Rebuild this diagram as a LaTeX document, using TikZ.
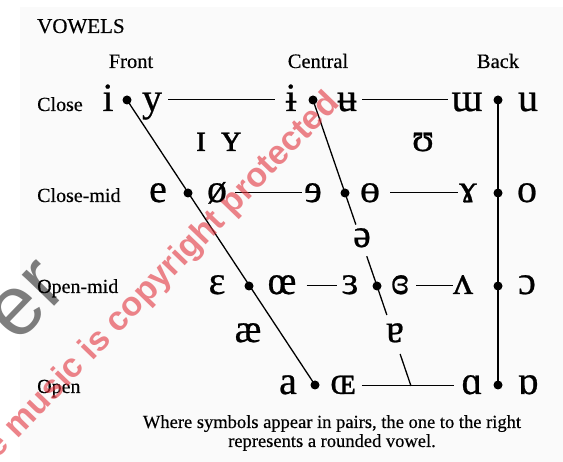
\documentclass[tikz,border=0pt]{standalone}
\usepackage{fontspec}
\setmainfont{Liberation Serif}
\newfontfamily\symfont[FakeBold=0.6]{Liberation Serif}
\newfontfamily\labfont[FakeBold=0.4]{Liberation Serif}
\newfontfamily\wmfont{Liberation Sans}
\usetikzlibrary{calc}
\begin{document}
\begin{tikzpicture}[x=1pt,y=-1pt,
  sym/.style={font=\symfont\fontsize{40}{44}\selectfont, inner sep=0pt, anchor=base},
  lab/.style={font=\labfont\fontsize{20}{24}\selectfont, inner sep=0pt, anchor=base west},
  hdr/.style={font=\labfont\fontsize{20.5}{24}\selectfont, inner sep=0pt, anchor=base},
  note/.style={font=\labfont\fontsize{18.5}{22}\selectfont, inner sep=0pt, anchor=base},
  vdot/.style={circle, fill=black, inner sep=0pt, minimum size=9pt},
  ln/.style={line width=1.3pt},
  hln/.style={line width=1pt}]
\fill[white] (0,0) rectangle (563,462);
\fill[black!2] (20,7) rectangle (563,462);
\useasboundingbox (0,0) rectangle (563,462);

% titles and labels
\node[lab, font=\labfont\fontsize{21}{24}\selectfont] (title) at (37,33) {VOWELS};
\node[hdr] (hfront) at (131,68) {Front};
\node[hdr] (hcentral) at (318,68) {Central};
\node[hdr] (hback) at (498,68) {Back};
\node[lab] (lclose) at (37,111) {Close};
\node[lab] (lclosemid) at (37,202) {Close-mid};
\node[lab] (lopenmid) at (37,293) {Open-mid};
\node[lab] (lopen) at (37,393) {Open};

% row 1
\node[sym] (si) at (108,111) {i};
\node[sym] (sy) at (152,111) {y};
\node[sym] (sbi) at (291,111) {ɨ};
\node[sym] (sbu) at (347,111) {ʉ};
\node[sym] (smu) at (467,111) {ɯ};
\node[sym] (su) at (528,111) {u};
% lax
\node[sym] (ssci) at (201,151) {ɪ};
\node[sym] (sscy) at (231,151) {ʏ};
\node[sym] (supsilon) at (423,151) {ʊ};
% row 2
\node[sym] (se) at (158,202) {e};
\node[sym] (soslash) at (217,202) {ø};
\node[sym] (srevE) at (313,202) {ɘ};
\node[sym] (sbaro) at (370,202) {ɵ};
\node[sym] (sgam) at (468,202) {ɤ};
\node[sym] (so) at (527,202) {o};
% schwa
\node[sym] (sschwa) at (362,247) {ə};
% row 3
\node[sym] (seps) at (217,294) {ɛ};
\node[sym] (soe) at (282,294) {œ};
\node[sym] (srevEps) at (350,294) {ɜ};
\node[sym] (sclrev) at (400,294) {ɞ};
\node[sym] (swedge) at (463,294) {ʌ};
\node[sym] (sopeno) at (527,294) {ɔ};
% near-open
\node[sym] (sae) at (248,342) {æ};
\node[sym] (sturna) at (395,342) {ɐ};
% row 4
\node[sym] (sa) at (288,394) {a};
\node[sym] (scapoe) at (343,394) {ɶ};
\node[sym] (salpha) at (472,394) {ɑ};
\node[sym] (sturnalpha) at (528,394) {ɒ};

% dots
\node[vdot] (f1) at (127,100) {};
\node[vdot] (f2) at (188,193) {};
\node[vdot] (f3) at (249,286) {};
\node[vdot] (f4) at (315,385) {};
\node[vdot] (c1) at (313,100) {};
\node[vdot] (c2) at (345,193) {};
\node[vdot] (c3) at (377,286) {};
\coordinate (c4) at (411,386);
\node[vdot] (b1) at (498,100) {};
\node[vdot] (b2) at (498,193) {};
\node[vdot] (b3) at (498,286) {};
\node[vdot] (b4) at (498,385) {};

% connectors
\begin{scope}[ln]
\draw (f1.center) -- (f4.center);
\draw (b1.center) -- (b4.center);
\draw (c1.center) -- (c2.center) -- ($(c2)!0.34!(c3)$);
\draw ($(c2)!0.68!(c3)$) -- (c3.center) -- ($(c3)!0.29!(c4)$);
\draw ($(c3)!0.68!(c4)$) -- (c4);
\draw[hln, shorten <=6pt, shorten >=10pt] (sy.east |- f1) -- (sbi.west |- f1);
\draw[hln, shorten <=5pt, shorten >=3pt] (sbu.east |- f1) -- (smu.west |- f1);
\draw[hln, shorten <=8pt, shorten >=2pt] (soslash.east |- c2) -- (srevE.west |- c2);
\draw[hln, shorten <=10pt, shorten >=1pt] (sbaro.east |- c2) -- (sgam.west |- c2);
\draw[hln, shorten <=10pt, shorten >=4pt] (soe.east |- c3) -- (srevEps.west |- c3);
\draw[hln, shorten <=7pt, shorten >=0pt] (sclrev.east |- c3) -- (swedge.west |- c3);
\draw[hln, shorten <=6pt, shorten >=7pt] (scapoe.east |- c4) -- (salpha.west |- c4);
\end{scope}

% footnote
\node[note] (n1) at (332,428) {Where symbols appear in pairs, the one to the right};
\node[note] (n2) at (332,447) {represents a rounded vowel.};

% watermark
\node[rotate=46, text=black, opacity=0.5, font=\wmfont\fontsize{85}{85}\selectfont, inner sep=0pt] (wmgray) at (28,302) {er};
\node[rotate=46, text={rgb,255:red,225;green,50;blue,60}, opacity=0.6, font=\wmfont\bfseries\fontsize{34}{40}\selectfont, inner sep=0pt] (wmred) at (163,276) {e music is copyright protected};
\end{tikzpicture}
\end{document}
